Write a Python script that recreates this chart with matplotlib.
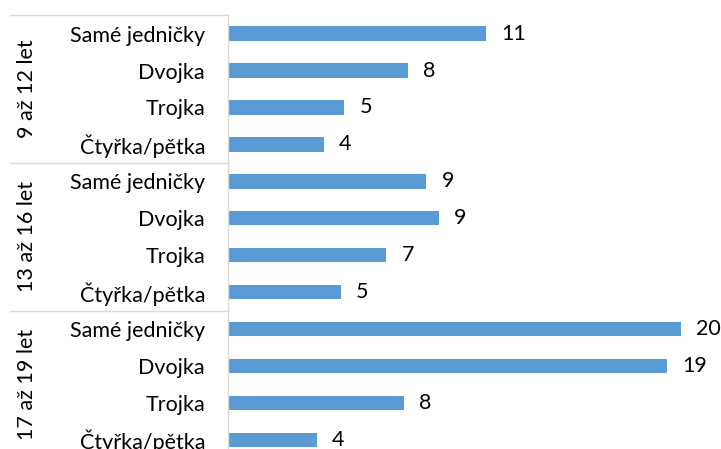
import matplotlib.pyplot as plt
from matplotlib.lines import Line2D
from matplotlib.transforms import blended_transform_factory

# Age groups and answers (top to bottom)
groups = ['9 až 12 let', '13 až 16 let', '17 až 19 let']
answers = ['Samé jedničky', 'Dvojka', 'Trojka', 'Čtyřka/pětka']
# Bar lengths (labels show rounded values)
vals_9_12 = [11.3, 7.9, 5.1, 4.2]
vals_13_16 = [8.7, 9.25, 6.95, 4.95]
vals_17_19 = [19.85, 19.25, 7.7, 3.9]

values = vals_9_12 + vals_13_16 + vals_17_19
labels = answers * len(groups)

plt.rcParams['font.family'] = ['Lato', 'DejaVu Sans']
blue = '#5B9BD5'
grid = '#D9D9D9'

fig = plt.figure(figsize=(7.21, 4.49), dpi=100)
W, H = 721, 449
top_px, bot_px = 15.2, 458.2
ax = fig.add_axes([228 / W, 1 - bot_px / H, (W - 228) / W, (bot_px - top_px) / H])

pos = list(range(len(values)))
ax.barh(pos, values, height=0.39, color=blue)
ax.set_ylim(len(values) - 0.5, -0.5)
ax.set_xlim(0, (W - 228) / 22.8)

ax.set_yticks(pos)
ax.set_yticklabels(labels, fontsize=15.5, color='#000000')
ax.tick_params(axis='y', length=0, pad=16.5)
ax.set_xticks([])
for s in ['top', 'right', 'bottom']:
    ax.spines[s].set_visible(False)
ax.spines['left'].set_color(grid)
ax.spines['left'].set_linewidth(1)

for p, v in zip(pos, values):
    ax.annotate(f'{v:.0f}', (v, p), xytext=(11, 0), textcoords='offset points',
                ha='left', va='center', fontsize=15.5, color='#000000',
                annotation_clip=False)

# group separators and rotated group labels on the left
tr = blended_transform_factory(fig.transFigure, ax.transData)
n = len(answers)
for i, g in enumerate(groups):
    y0 = i * n - 0.5
    fig.add_artist(Line2D([10 / W, 228 / W], [y0, y0], transform=tr,
                          color=grid, lw=1))
    fig.text(27 / W, i * n + (n - 1) / 2, g, transform=tr, rotation=90,
             ha='center', va='center', fontsize=15.5, color='#000000')

fig.savefig('out.png', dpi=100)
